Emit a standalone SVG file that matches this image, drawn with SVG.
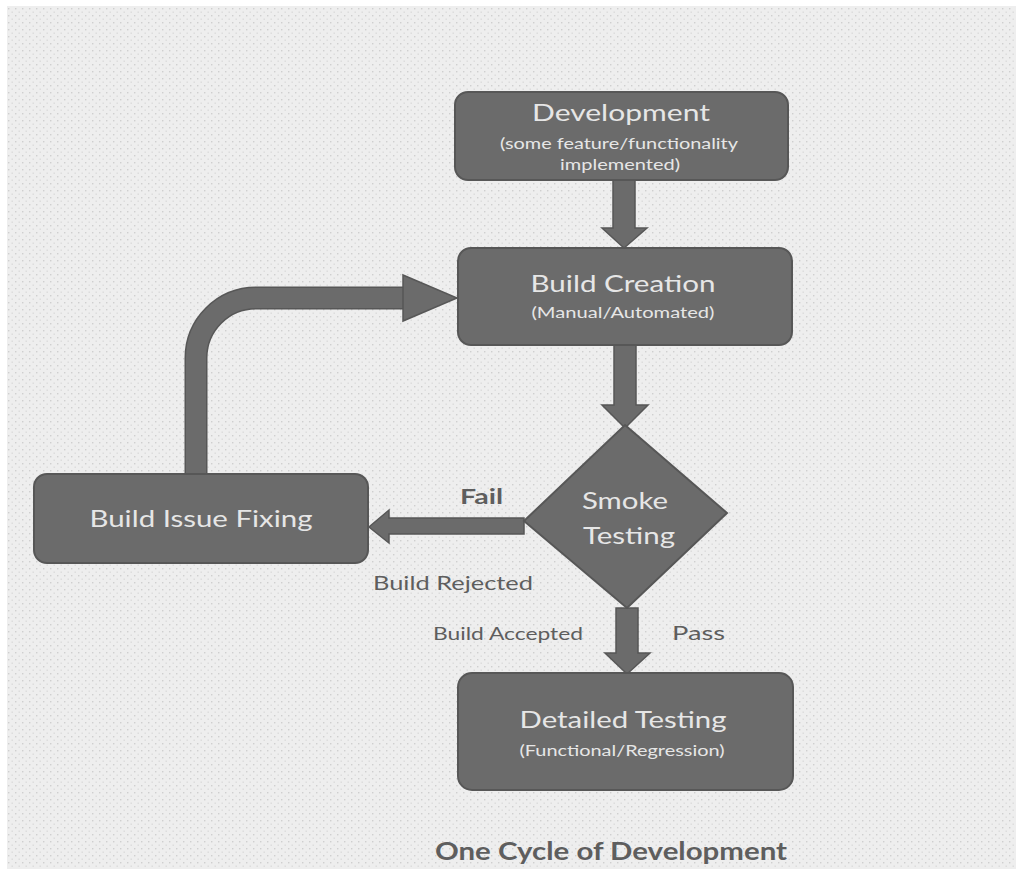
<svg xmlns="http://www.w3.org/2000/svg" width="1016" height="869" viewBox="0 0 1016 869">
<defs>
<pattern id="dots" x="0" y="0" width="7" height="7" patternUnits="userSpaceOnUse">
<rect width="7" height="7" fill="#eeeeee"/>
<rect x="1" y="1" width="1.4" height="1.4" fill="#cfcfcf"/>
<rect x="4.5" y="4.5" width="1.4" height="1.4" fill="#dadada"/>
</pattern>
<style>
.box{fill:#6b6b6b;stroke:#575757;stroke-width:2}
.arr{fill:#6b6b6b;stroke:#575757;stroke-width:1.5;stroke-linejoin:miter}
.t{font-family:Lato,"Open Sans","Liberation Sans",sans-serif;fill:#e6e6e6;text-anchor:middle}
.big{font-size:24px}
.small{font-size:16px}
.lbl{font-family:Lato,"Open Sans","Liberation Sans",sans-serif;fill:#5e5e5e}
</style>
</defs>
<rect width="1016" height="869" fill="#ffffff"/>
<rect x="7" y="6" width="1009" height="863" fill="url(#dots)"/>

<g id="connectors">
<polygon class="arr" points="613,180 635,180 635,228 647,228 624,248 602,228 613,228"/>
<polygon class="arr" points="614,345 636,345 636,405 648,405 625,428 602,405 614,405"/>
<polygon class="arr" points="524,518 524,534 389,534 389,543 369,527 389,510 389,518"/>
<polygon class="arr" points="616,608 638,608 638,653 650,653 627,674 605,653 616,653"/>
<path d="M196,473 V358 A60,60 0 0 1 256,298 H405" fill="none" stroke="#575757" stroke-width="23"/>
<path d="M196,473 V358 A60,60 0 0 1 256,298 H406" fill="none" stroke="#6b6b6b" stroke-width="20"/>
<polygon class="arr" points="403,275 457,298 403,321"/>
</g>

<g id="development">
<rect class="box" x="455" y="92" width="333" height="88" rx="13"/>
<text class="t big" x="621" y="121" textLength="178" lengthAdjust="spacingAndGlyphs">Development</text>
<text class="t small" x="619" y="149" textLength="238" lengthAdjust="spacingAndGlyphs">(some feature/functionality</text>
<text class="t small" x="620" y="170" textLength="120" lengthAdjust="spacingAndGlyphs">implemented)</text>
</g>

<g id="build-creation">
<rect class="box" x="458" y="248" width="334" height="97" rx="13"/>
<text class="t big" x="623" y="292" textLength="185" lengthAdjust="spacingAndGlyphs">Build Creation</text>
<text class="t small" x="623" y="318" textLength="183" lengthAdjust="spacingAndGlyphs">(Manual/Automated)</text>
</g>

<g id="smoke-testing">
<polygon class="box" points="625,425 727,513 627,608 524,521"/>
<text class="t big" x="625" y="509" textLength="86" lengthAdjust="spacingAndGlyphs">Smoke</text>
<text class="t big" x="629" y="544" textLength="92" lengthAdjust="spacingAndGlyphs">Testing</text>
</g>

<g id="build-issue-fixing">
<rect class="box" x="34" y="474" width="334" height="89" rx="13"/>
<text class="t" x="201" y="527" font-size="23" textLength="223" lengthAdjust="spacingAndGlyphs">Build Issue Fixing</text>
</g>

<g id="detailed-testing">
<rect class="box" x="458" y="673" width="335" height="117" rx="14"/>
<text class="t big" x="623" y="728" textLength="207" lengthAdjust="spacingAndGlyphs">Detailed Testing</text>
<text class="t" x="622" y="756" font-size="15" textLength="205" lengthAdjust="spacingAndGlyphs">(Functional/Regression)</text>
</g>

<g id="labels">
<text class="lbl" x="460" y="504" font-size="20" font-weight="bold" fill="#4f4f4f" textLength="43" lengthAdjust="spacingAndGlyphs">Fail</text>
<text class="lbl" x="373" y="590" font-size="19" textLength="160" lengthAdjust="spacingAndGlyphs">Build Rejected</text>
<text class="lbl" x="433" y="640" font-size="17" fill="#8a8a8a" textLength="150" lengthAdjust="spacingAndGlyphs">Build Accepted</text>
<text class="lbl" x="672" y="640" font-size="19" textLength="53" lengthAdjust="spacingAndGlyphs">Pass</text>
<text class="lbl" x="435" y="860" font-size="24" font-weight="bold" fill="#3a3a3a" textLength="352" lengthAdjust="spacingAndGlyphs">One Cycle of Development</text>
</g>
</svg>
